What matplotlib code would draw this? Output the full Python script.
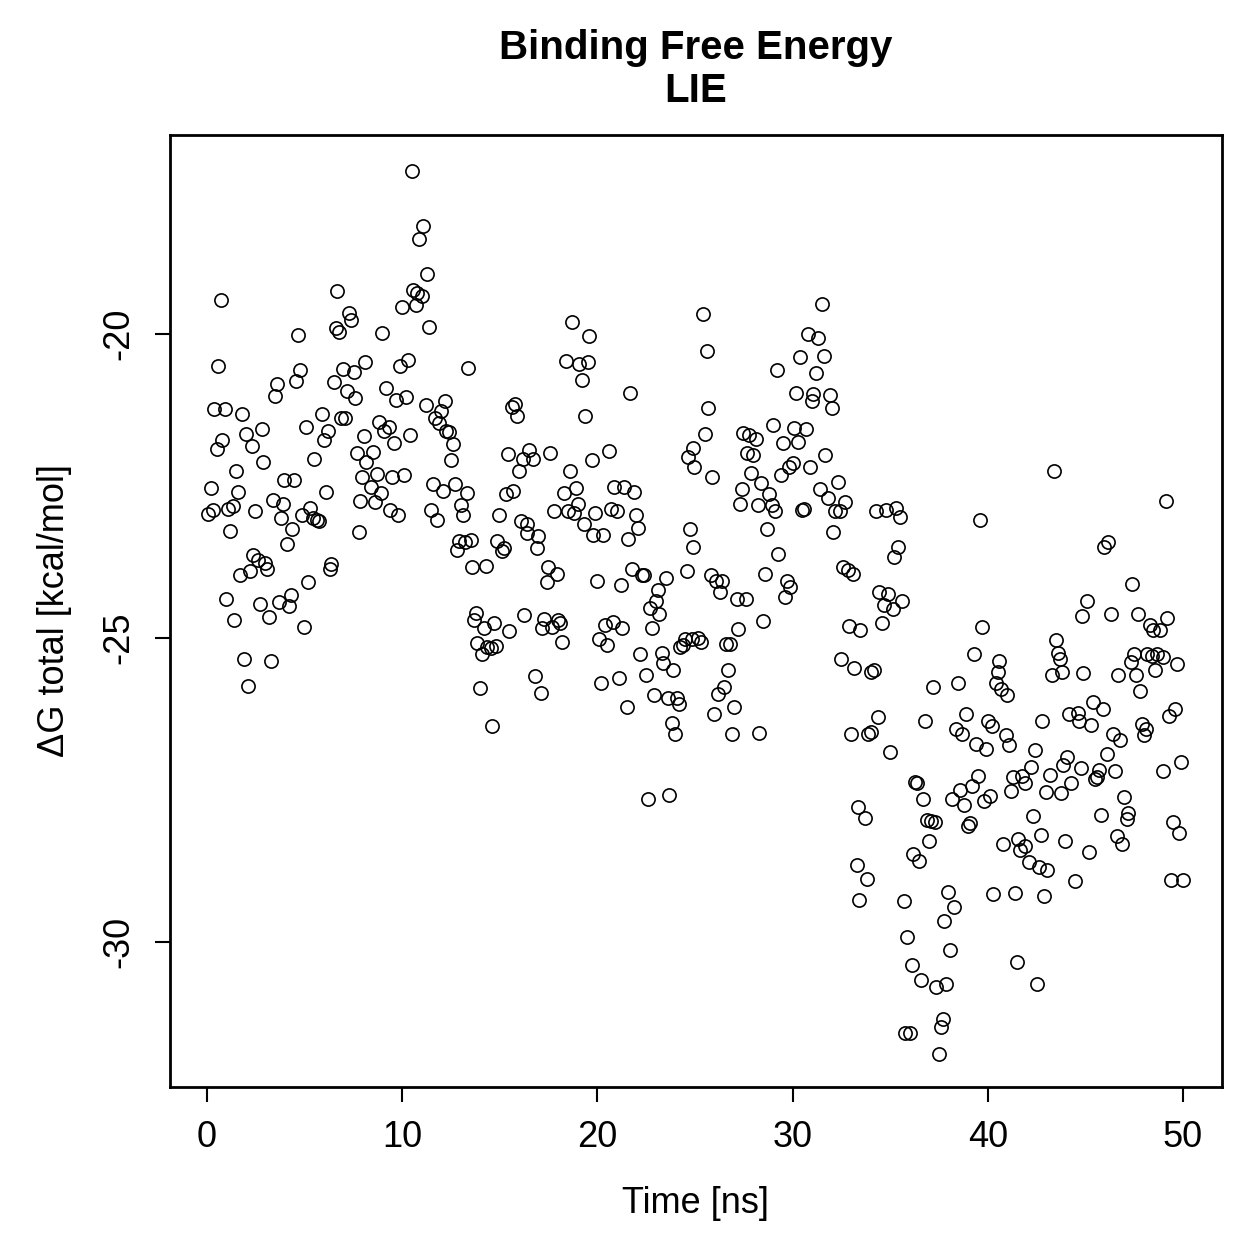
import matplotlib
matplotlib.use("Agg")
import matplotlib.pyplot as plt

plt.rcParams["font.family"] = ["Liberation Sans", "DejaVu Sans"]
plt.rcParams["axes.unicode_minus"] = False

# values, split by time window
t_00_08 = [
    0.70, 6.68, 7.27, 7.38, 6.59, 6.78, 4.68, 0.58,
    4.78, 4.58, 3.57, 3.48, 6.98, 7.51, 8.10, 6.49,
    7.19, 7.60, 0.38, 0.90, 1.79, 5.87, 6.85, 7.07,
    5.07, 2.80, 2.00, 6.18, 5.98, 0.79, 0.50, 2.29,
    8.06, 5.48, 2.89, 7.68, 8.15, 1.49, 0.19, 1.59,
    3.96, 4.47, 6.08, 7.94, 7.85, 0.07, 0.31, 1.06,
    1.32, 2.48, 3.38, 3.88, 3.79, 4.87, 5.29, 5.45,
    5.62, 5.75, 7.77, 1.18, 4.37, 4.08, 2.37, 2.60,
    2.99, 3.09, 2.20, 1.69, 6.37, 6.28, 5.19, 0.97,
    2.70, 3.69, 4.29, 4.22, 1.40, 3.19, 4.99, 1.90,
    3.30, 2.08,
]
dg_00_08 = [
    -19.45, -19.30, -19.65, -19.77, -19.90, -19.97, -20.02, -20.53,
    -20.59, -20.77, -20.83, -21.02, -20.58, -20.63, -20.46, -20.79,
    -20.94, -21.06, -21.24, -21.24, -21.31, -21.32, -21.39, -21.39,
    -21.53, -21.57, -21.64, -21.60, -21.74, -21.74, -21.89, -21.84,
    -21.68, -22.06, -22.11, -21.96, -22.10, -22.26, -22.53, -22.60,
    -22.40, -22.40, -22.60, -22.36, -22.75, -22.96, -22.89, -22.88,
    -22.83, -22.91, -22.73, -22.80, -23.03, -22.98, -22.86, -23.03,
    -23.06, -23.08, -23.26, -23.24, -23.21, -23.45, -23.64, -23.72,
    -23.77, -23.87, -23.90, -23.96, -23.78, -23.87, -24.08, -24.36,
    -24.44, -24.40, -24.29, -24.48, -24.71, -24.65, -24.81, -25.34,
    -25.37, -25.79,
]

t_08_16 = [
    10.49, 11.08, 10.88, 11.29, 10.57, 10.78, 11.00, 9.97,
    10.69, 11.37, 8.98, 9.89, 10.28, 13.39, 9.19, 9.67,
    10.19, 11.20, 12.19, 11.99, 11.68, 11.89, 12.23, 12.41,
    12.59, 12.48, 8.79, 9.07, 9.31, 9.60, 10.40, 8.49,
    8.69, 9.49, 10.08, 8.40, 8.90, 8.59, 9.37, 9.80,
    11.60, 12.11, 12.71, 13.30, 13.00, 13.10, 11.48, 11.80,
    15.40, 15.60, 15.78, 15.90, 16.21, 16.51, 15.98, 15.30,
    15.70, 14.97, 16.07, 16.38, 16.38, 12.89, 13.22, 13.51,
    12.79, 13.59, 14.28, 14.86, 15.10, 15.21, 13.78, 13.68,
    14.19, 14.70, 15.47, 16.24, 13.85, 14.33, 14.53, 14.80,
    14.10, 13.99, 14.58,
]
dg_08_16 = [
    -17.33, -18.22, -18.44, -19.02, -19.28, -19.33, -19.37, -19.55,
    -19.53, -19.88, -19.99, -20.52, -20.43, -20.56, -20.89, -21.09,
    -21.03, -21.17, -21.10, -21.26, -21.38, -21.47, -21.60, -21.62,
    -21.81, -22.08, -21.45, -21.60, -21.53, -21.80, -21.67, -21.94,
    -22.31, -22.35, -22.32, -22.52, -22.61, -22.76, -22.89, -22.97,
    -22.46, -22.59, -22.47, -22.62, -22.82, -22.98, -22.89, -23.06,
    -21.98, -21.20, -21.16, -21.35, -22.06, -21.91, -22.26, -22.64,
    -22.58, -22.98, -23.08, -23.13, -23.28, -23.40, -23.42, -23.38,
    -23.56, -23.84, -23.82, -23.40, -23.57, -23.52, -24.58, -24.70,
    -24.84, -24.76, -24.88, -24.62, -25.08, -25.15, -25.17, -25.13,
    -25.27, -25.82, -26.44,
]

t_16_25 = [
    18.70, 19.59, 18.39, 19.06, 19.50, 19.19, 21.69, 19.38,
    16.72, 17.59, 18.60, 19.71, 20.59, 18.30, 18.89, 18.99,
    17.79, 18.48, 18.79, 19.31, 19.88, 19.79, 20.30, 20.87,
    21.38, 21.89, 20.70, 21.02, 21.98, 22.10, 21.58, 16.97,
    16.89, 17.49, 17.92, 17.40, 20.00, 21.19, 21.76, 22.27,
    22.40, 23.50, 23.09, 23.00, 22.71, 24.60, 24.66, 24.88,
    24.96, 24.74, 24.91, 17.28, 17.18, 17.66, 18.00, 18.08,
    18.19, 20.39, 20.81, 21.28, 20.08, 20.48, 16.80, 17.09,
    20.20, 21.09, 21.50, 23.17, 22.78, 22.18, 22.49, 23.29,
    23.37, 23.89, 22.90, 23.60, 24.09, 24.18, 23.80, 23.99,
    22.61, 23.68, 24.23, 24.40, 24.49, 24.85,
]
dg_16_25 = [
    -19.81, -20.03, -20.45, -20.49, -20.47, -20.76, -20.97, -21.35,
    -22.06, -21.95, -22.25, -22.08, -21.92, -22.62, -22.54, -22.80,
    -22.91, -22.91, -22.94, -23.12, -22.94, -23.31, -23.31, -22.52,
    -22.52, -22.60, -22.88, -22.91, -22.97, -23.19, -23.37, -23.32,
    -23.52, -23.83, -23.94, -24.08, -24.06, -24.13, -23.87, -23.96,
    -23.96, -24.01, -24.21, -24.39, -24.51, -23.90, -22.03, -21.87,
    -22.18, -23.21, -23.51, -24.68, -24.84, -24.81, -24.70, -24.76,
    -25.07, -24.79, -24.74, -24.83, -25.02, -25.12, -25.63, -25.91,
    -25.74, -25.65, -26.14, -24.61, -24.84, -25.27, -25.61, -25.24,
    -25.41, -25.53, -25.93, -25.99, -25.99, -26.09, -26.39, -26.57,
    -27.65, -27.58, -25.14, -25.12, -25.02, -25.01,
]

t_25_33 = [
    31.49, 25.39, 30.77, 31.29, 25.60, 30.40, 31.59, 29.18,
    31.18, 30.19, 31.06, 30.99, 31.92, 32.00, 25.68, 25.49,
    25.89, 27.48, 27.79, 28.12, 27.68, 27.99, 28.99, 29.49,
    30.09, 30.69, 30.29, 27.88, 29.39, 29.80, 30.02, 30.89,
    31.68, 28.40, 27.39, 27.31, 28.21, 28.79, 28.93, 29.11,
    30.48, 30.60, 31.40, 31.80, 32.31, 32.68, 32.17, 32.43,
    28.69, 32.09, 29.27, 25.80, 26.08, 26.37, 26.28, 27.13,
    27.60, 28.60, 29.70, 29.87, 29.61, 32.60, 32.86, 33.11,
    28.50, 27.22, 25.17, 25.31, 26.59, 26.79, 26.69, 26.50,
    26.19, 27.00, 25.99, 26.88, 28.29, 32.89, 33.45, 32.48,
    33.15, 32.99, 33.28, 33.42,
]
dg_25_33 = [
    -19.51, -19.67, -20.00, -20.06, -20.28, -20.38, -20.36, -20.60,
    -20.64, -20.97, -20.98, -21.10, -21.01, -21.21, -21.21, -21.64,
    -22.35, -21.63, -21.67, -21.72, -21.95, -21.99, -21.50, -21.80,
    -21.54, -21.56, -21.78, -22.28, -22.32, -22.19, -22.13, -22.18,
    -21.99, -22.45, -22.55, -22.80, -22.82, -22.64, -22.82, -22.91,
    -22.89, -22.88, -22.55, -22.70, -22.44, -22.77, -22.91, -22.91,
    -23.20, -23.26, -23.61, -23.96, -24.06, -24.06, -24.24, -24.35,
    -24.35, -23.95, -24.06, -24.16, -24.32, -23.83, -23.88, -23.95,
    -24.72, -24.85, -25.00, -25.06, -25.10, -25.10, -25.52, -25.80,
    -25.92, -26.13, -26.25, -26.57, -26.56, -24.80, -24.87, -25.35,
    -25.49, -26.58, -28.73, -29.31,
]

t_33_42 = [
    34.26, 34.78, 35.31, 35.50, 39.60, 35.38, 35.19, 34.44,
    34.91, 35.59, 34.70, 35.13, 34.56, 39.68, 39.29, 40.57,
    40.51, 40.40, 40.66, 41.00, 34.02, 34.19, 37.21, 38.49,
    34.39, 33.88, 34.02, 34.99, 36.78, 38.88, 38.35, 38.69,
    39.38, 39.91, 39.99, 40.20, 40.92, 41.10, 36.27, 36.39,
    36.70, 36.87, 37.09, 37.30, 37.00, 36.18, 36.48, 38.60,
    38.17, 38.78, 39.17, 39.51, 39.00, 39.09, 39.82, 40.11,
    41.27, 41.74, 41.19, 41.91, 33.37, 33.71, 33.80, 35.71,
    37.98, 38.29, 37.78, 40.28, 41.39, 40.79, 41.56, 41.65,
    41.91, 35.88, 38.09, 36.10, 36.58, 37.37, 37.88, 41.51,
    37.69, 37.60, 35.76, 36.01, 37.50,
]
dg_33_42 = [
    -22.91, -22.89, -22.87, -23.01, -23.06, -23.51, -23.66, -24.24,
    -24.28, -24.39, -24.46, -24.53, -24.76, -24.82, -25.26, -25.38,
    -25.55, -25.74, -25.83, -25.93, -25.55, -25.52, -25.81, -25.74,
    -26.29, -26.58, -26.54, -26.87, -26.36, -26.25, -26.50, -26.58,
    -26.74, -26.83, -26.37, -26.44, -26.60, -26.75, -27.37, -27.39,
    -27.65, -27.99, -28.01, -28.03, -28.34, -28.55, -28.66, -27.50,
    -27.65, -27.74, -27.43, -27.26, -28.09, -28.04, -27.68, -27.60,
    -27.28, -27.26, -27.51, -27.39, -27.77, -27.95, -28.96, -29.33,
    -29.17, -29.42, -29.65, -29.21, -29.19, -28.38, -28.31, -28.48,
    -28.41, -29.92, -30.13, -30.38, -30.62, -30.74, -30.69, -30.32,
    -31.26, -31.39, -31.50, -31.50, -31.83,
]

t_42_50 = [
    43.41, 49.11, 46.17, 45.97, 47.40, 45.10, 44.81, 46.30,
    47.71, 49.19, 48.31, 48.48, 48.82, 43.49, 43.62, 43.70,
    43.27, 43.78, 44.89, 47.50, 47.32, 48.17, 48.40, 48.68,
    48.96, 49.68, 46.69, 47.59, 48.57, 47.80, 45.40, 45.88,
    44.18, 44.64, 44.69, 45.29, 42.80, 46.40, 46.77, 47.92,
    48.10, 48.00, 49.59, 49.30, 42.40, 42.21, 43.19, 42.96,
    43.76, 44.27, 44.04, 43.87, 44.76, 45.71, 45.58, 45.49,
    46.11, 46.52, 48.99, 49.90, 46.99, 47.20, 47.12, 46.60,
    46.89, 42.30, 45.80, 43.98, 42.71, 45.20, 42.10, 42.60,
    43.02, 44.49, 42.88, 49.47, 49.80, 49.39, 50.00, 42.50,
]
dg_42_50 = [
    -22.26, -22.75, -23.42, -23.50, -24.11, -24.39, -24.63, -24.61,
    -24.61, -24.67, -24.79, -24.87, -24.87, -25.04, -25.24, -25.35,
    -25.60, -25.55, -25.58, -25.26, -25.39, -25.27, -25.30, -25.27,
    -25.31, -25.42, -25.60, -25.60, -25.53, -25.87, -26.05, -26.17,
    -26.25, -26.24, -26.36, -26.43, -26.37, -26.57, -26.67, -26.41,
    -26.50, -26.60, -26.16, -26.28, -26.84, -27.12, -27.25, -27.53,
    -27.54, -27.39, -26.95, -27.08, -27.14, -27.17, -27.28, -27.32,
    -26.91, -27.18, -27.18, -27.03, -27.61, -27.87, -27.98, -28.26,
    -28.39, -27.92, -27.91, -28.34, -28.24, -28.52, -28.68, -28.77,
    -28.82, -28.99, -29.24, -28.02, -28.20, -28.97, -28.98, -30.68,
]

time_ns = t_00_08 + t_08_16 + t_16_25 + t_25_33 + t_33_42 + t_42_50
dg_total = dg_00_08 + dg_08_16 + dg_16_25 + dg_25_33 + dg_33_42 + dg_42_50

fig = plt.figure(figsize=(12.59, 12.59), dpi=100)
ax = fig.add_axes([0.135, 0.1366, 0.8356, 0.7562])

ax.plot(time_ns, dg_total, linestyle="none", marker="o", markersize=9.5,
        markerfacecolor="none", markeredgecolor="black", markeredgewidth=1.2)

ax.set_xlim(-1.9, 52.0)
ax.set_ylim(-32.38, -16.73)
ax.set_xticks([0, 10, 20, 30, 40, 50])
ax.set_yticks([-20, -25, -30])
ax.tick_params(direction="out", length=11, width=1.5, labelsize=26, pad=13)
for lab in ax.get_yticklabels():
    lab.set_rotation(90)
    lab.set_va("center")
for s in ax.spines.values():
    s.set_linewidth(2.0)

ax.set_xlabel("Time [ns]", fontsize=26, labelpad=22)
ax.set_ylabel("\u0394G total [kcal/mol]", fontsize=26, labelpad=21)
ax.set_title("Binding Free Energy\nLIE", fontsize=29, fontweight="bold",
             linespacing=1.15, pad=24)

fig.savefig("out.png", dpi=100)
